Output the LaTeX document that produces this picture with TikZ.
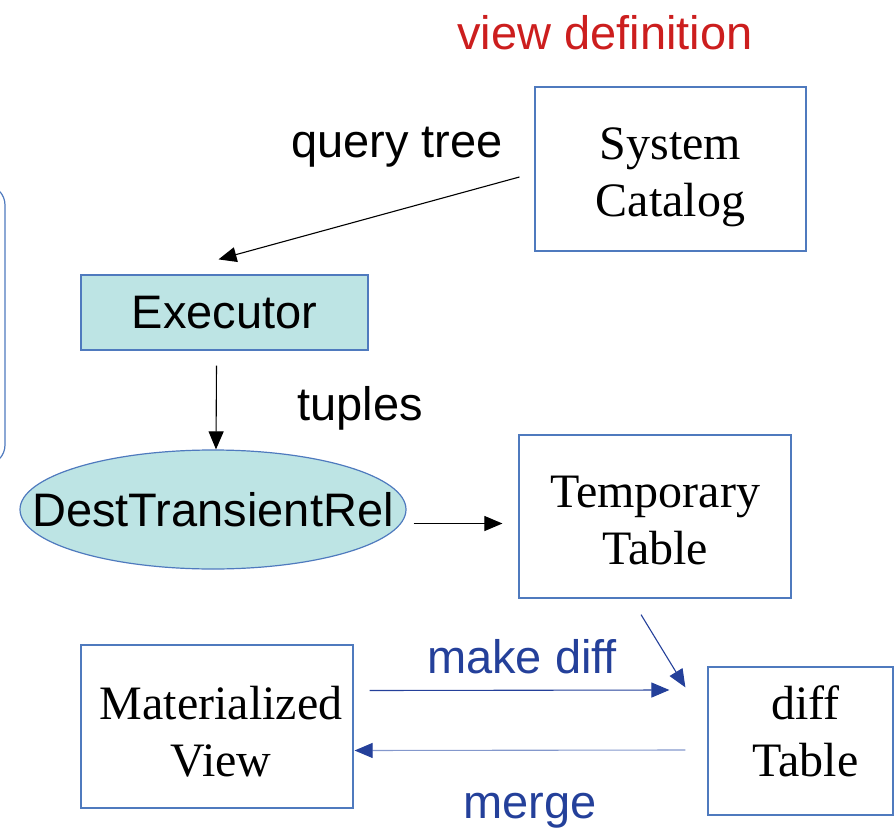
\documentclass[tikz,border=0pt]{standalone}
\usepackage{fontspec}
\setmainfont{Liberation Sans}
\newfontfamily\boxfont{Liberation Serif}
\usepackage{tikz}
\usetikzlibrary{shapes,arrows,positioning,calc,arrows.meta}

\definecolor{edgeblue}{RGB}{79,122,190}
\definecolor{tealfill}{RGB}{189,228,228}
\definecolor{labelblue}{RGB}{36,64,154}
\definecolor{paleblue}{RGB}{132,152,204}
\definecolor{labelred}{RGB}{204,30,30}

\tikzset{
    relbox/.style={draw=edgeblue, line width=1.2pt, rectangle, inner sep=0pt},
    reltext/.style={inner sep=0pt, align=center, font=\boxfont\fontsize{48}{57}\selectfont},
    procbox/.style={draw=edgeblue, line width=1.2pt, fill=tealfill, inner sep=0pt,
        font=\fontsize{47}{52}\selectfont},
    lbl/.style={font=\fontsize{47}{52}\selectfont, inner sep=0pt},
    arr/.style={-{Triangle[length=18pt,width=15pt]}, line width=1.1pt},
    bluearr/.style={-{Triangle[length=18pt,width=15pt]}, line width=1.1pt, draw=labelblue}
}

\begin{document}
\begin{tikzpicture}[x=1pt, y=-1pt]
    \useasboundingbox (0,0) rectangle (894,832);

    \node [draw=edgeblue, line width=1.2pt, rounded corners=20pt, minimum width=220pt, minimum height=280pt] (side) at (-105,325) {};

    % relation boxes
    \node [relbox, minimum width=271pt, minimum height=164pt] (cat) at (670.5,169) {};
    \node [relbox, minimum width=272pt, minimum height=163pt] (temp) at (655,516.5) {};
    \node [relbox, minimum width=272pt, minimum height=163pt] (mat) at (217,726.5) {};
    \node [relbox, minimum width=185pt, minimum height=148pt] (diff) at (800.5,741) {};
    \node [reltext] (catText) at ([shift={(0,8)}]cat.center) {System\\Catalog};
    \node [reltext] (tempText) at ([shift={(0,4)}]temp.center) {Temporary\\Table};
    \node [reltext] (matText) at ([shift={(4,5)}]mat.center) {Materialized\\View};
    \node [reltext] (diffText) at ([shift={(5,-10)}]diff.center) {diff\\Table};

    % executor side
    \node [procbox, rectangle, minimum width=287pt, minimum height=75pt] (exec) at (224.5,312.5) {Executor};
    \node [procbox, ellipse, minimum width=386pt, minimum height=119pt] (dtr) at (213,509.5) {\makebox[0pt]{DestTransientRel}};

    \node [lbl, text=labelred] (viewdef) at (605,33) {view definition};
    \node [lbl] (qtree) at (397,147) {query tree};
    \node [lbl] (tup) at (360,408) {tuples};
    \node [lbl, text=labelblue] (mkdiff) at (522,657) {make diff};
    \node [lbl, text=labelblue] (mrg) at (530,811) {merge};

    \draw [arr] ([shift={(-15,8)}]cat.west) -- ([shift={(-6,-15)}]exec.north);
    \draw [arr] ([shift={(-8,15)}]exec.south) -- ([xshift=3pt]dtr.north);
    \draw [arr] ([shift={(7,14)}]dtr.east) -- ([shift={(-16,7)}]temp.west);
    \draw [bluearr] ([shift={(-14,16)}]temp.south) -- ([shift={(-22,21)}]diff.north west);
    \draw [bluearr] ([shift={(16,-36)}]mat.east) -- ([shift={(-38,-51)}]diff.west);
    \draw [-{Triangle[length=18pt,width=15pt,color=labelblue]}, line width=1.1pt, draw=paleblue] ([shift={(-22,9)}]diff.west) -- ([shift={(1,24)}]mat.east);
\end{tikzpicture}
\end{document}
